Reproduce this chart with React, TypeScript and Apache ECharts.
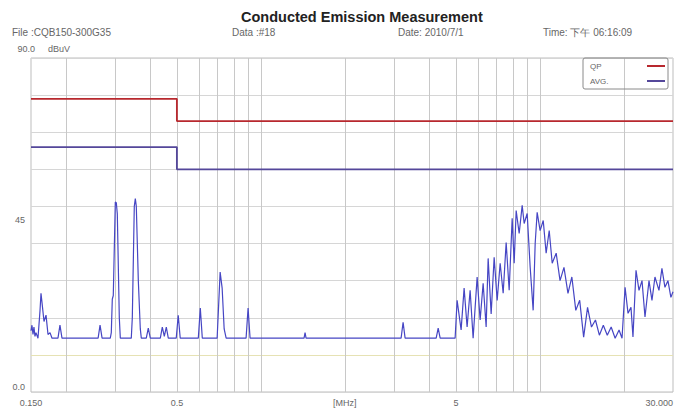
import React, { useEffect, useRef } from "react";
import * as echarts from "echarts";

// Measured trace (MHz, dBuV)
const traceFreq = [
  0.15, 0.1512, 0.1525, 0.1537, 0.155, 0.1563, 0.1589, 0.1616, 0.1629, 0.1643, 0.167, 0.1698, 0.1726, 0.1755, 0.1784,
  0.1874, 0.1905, 0.1937, 0.261, 0.2652, 0.2697, 0.2886, 0.291, 0.2934, 0.2958, 0.3008, 0.3033, 0.3058, 0.3109, 0.3135,
  0.3432, 0.3461, 0.3518, 0.3548, 0.3577, 0.3637, 0.3697, 0.3728, 0.3884, 0.3949, 0.4015, 0.4361, 0.4433, 0.4507, 0.4582,
  0.4658, 0.4973, 0.5056, 0.514, 0.5967, 0.6066, 0.6167, 0.697, 0.7145, 0.7264, 0.7386, 0.7508, 0.885, 0.8998, 0.9147,
  1.428, 1.44, 1.452, 3.181, 3.234, 3.288, 4.249, 4.32, 4.391, 4.968, 5.051, 5.22, 5.351, 5.485, 5.623, 5.764, 5.958,
  6.108, 6.261, 6.418, 6.525, 6.689, 6.857, 7.029, 7.205, 7.386, 7.571, 7.761, 7.956, 8.088, 8.223, 8.429, 8.641, 8.784,
  9.004, 9.23, 9.461, 9.619, 9.778, 10.02, 10.28, 10.53, 10.8, 11.07, 11.44, 11.81, 12.2, 12.61, 13.02, 13.45, 13.89,
  14.35, 14.82, 15.31, 15.82, 16.34, 16.88, 17.44, 18.01, 18.61, 19.22, 19.7, 20.2, 20.7, 21.21, 21.56, 22.11, 22.66,
  23.23, 23.81, 24.61, 25.22, 25.85, 26.72, 27.38, 28.07, 28.77, 29.48, 30,
];
const traceLevel = [
  16.5, 18, 15.5, 17.5, 15, 16, 14.5, 22, 26.6, 24, 19, 20.7, 15.5, 16, 14.5,
  14.5, 18, 14.5, 14.5, 18, 14.5, 14.5, 16, 25, 26, 51.2, 51, 48, 20, 14.5,
  14.5, 20, 50, 52.1, 50, 30, 17, 14.5, 14.5, 17.2, 14.5, 14.5, 17.5, 15, 17.5,
  14.5, 14.5, 20.7, 14.5, 14.5, 22.6, 14.5, 14.5, 32.3, 28, 17, 14.5, 14.5, 22.6, 14.5,
  14.5, 16, 14.5, 14.5, 18.8, 14.5, 14.5, 17.2, 14.5, 14.5, 24.7, 16.7, 28, 17.5, 27.4, 14.5, 31,
  19.4, 29.3, 17.5, 36, 21, 36.3, 24.7, 34.7, 26.6, 40.3, 27.4, 46.8, 34.7, 48.9, 42.7, 50.3, 45.4,
  48.1, 33.6, 22, 40, 48.4, 43.5, 46.2, 37.4, 43.5, 34.7, 37.4, 30, 33.6, 26.6, 31, 22, 24.7,
  14.8, 22.8, 17.5, 19.4, 15.3, 18, 15.3, 17.5, 14.5, 16.7, 14.5, 28.2, 21.2, 22.8, 14.8, 32.8, 27.4,
  30, 20.2, 30, 24.7, 31, 27.4, 33.3, 28.2, 30, 25.5, 27,
];

// Limit lines (class A)
const limitFreq = [0.15, 0.5, 0.5, 30];
const qpLimit = [79, 79, 73, 73];
const avgLimit = [66, 66, 60, 60];

// Axes
const gridFreqs = [0.2, 0.3, 0.4, 0.5, 0.6, 0.7, 0.8, 0.9, 1, 2, 3, 4, 5, 6, 7, 8, 9, 10, 20];
const xTickValues = [0.15, 0.5, 2, 5, 30];
const xTickLabels = ["0.150", "0.5", "[MHz]", "5", "30.000"];
const yTickValues = [0, 45];
const yTickLabels = ["0.0", "45"];

const headerTexts = ["File :CQB150-300G35", "Data :#18", "Date: 2010/7/1", "Time: 下午 06:16:09"];

const FONT = "Liberation Sans, Arial, sans-serif";

function nearestLabel(v: number, values: number[], labels: string[]) {
  let best = 0;
  let bd = Infinity;
  values.forEach((t, i) => {
    const d = Math.abs(Math.log(v) - Math.log(t));
    if (d < bd) {
      bd = d;
      best = i;
    }
  });
  return labels[best];
}

export default function App() {
  const ref = useRef<HTMLDivElement>(null);
  useEffect(() => {
    if (!ref.current) return;
    const chart = echarts.init(ref.current, undefined, { renderer: "svg" });
    const zip = (a: number[], b: number[]) => a.map((x, i) => [x, b[i]]);
    const headerX = [12, 232, 398, 543];
    chart.setOption({
      animation: false,
      backgroundColor: "#ffffff",
      textStyle: { fontFamily: FONT },
      title: {
        text: "Conducted Emission Measurement",
        left: 236,
        top: 4,
        textStyle: { fontSize: 14.5, fontWeight: "bold", color: "#222", fontFamily: FONT },
      },
      graphic: [
        ...headerTexts.map((t, i) => ({
          type: "text",
          x: headerX[i],
          y: 32,
          style: { text: t, fontSize: 10, fill: "#666", fontFamily: FONT, textVerticalAlign: "middle" },
        })),
        {
          type: "text",
          x: 35,
          y: 49,
          style: { text: "90.0", fontSize: 9, fill: "#666", fontFamily: FONT, textAlign: "right", textVerticalAlign: "middle" },
        },
      ],
      legend: {
        data: ["QP", "AVG."],
        orient: "vertical",
        align: "right",
        right: 21,
        top: 58,
        icon: "rect",
        itemWidth: 18,
        itemHeight: 2,
        itemGap: 7,
        borderColor: "#8a8a8a",
        borderWidth: 1,
        borderRadius: 2,
        padding: [4, 3, 4, 7],
        formatter: (n: string) => `{a|${n}}`,
        textStyle: {
          fontSize: 8,
          color: "#666",
          fontFamily: FONT,
          rich: { a: { width: 52, align: "left", fontSize: 8, color: "#666", fontFamily: FONT } },
        },
      },
      grid: { left: 31, right: 16, top: 58, bottom: 18, show: true, borderColor: "#bdbdbd", borderWidth: 1 },
      xAxis: {
        type: "log",
        logBase: 10,
        min: 0.15,
        max: 30,
        axisLine: { show: false },
        axisTick: { show: false, customValues: gridFreqs },
        splitLine: { show: true, lineStyle: { color: "#c8c8c8", width: 1 } },
        minorSplitLine: { show: false },
        axisLabel: {
          customValues: xTickValues,
          formatter: (v: number) => nearestLabel(v, xTickValues, xTickLabels),
          fontSize: 9,
          color: "#666",
          fontFamily: FONT,
          margin: 6,
          alignMaxLabel: "right",
          showMinLabel: true,
          showMaxLabel: true,
        },
      },
      yAxis: {
        type: "value",
        min: 0,
        max: 90,
        interval: 10,
        name: "dBuV",
        nameLocation: "end",
        nameGap: 5,
        nameTextStyle: { align: "left", padding: [0, 0, 0, 17], fontSize: 9, color: "#666", fontFamily: FONT },
        axisLine: { show: false },
        axisTick: { show: false },
        splitLine: {
          show: true,
          lineStyle: {
            color: ["#d6d6d6", "#e6e2b4", "#d6d6d6", "#d6d6d6", "#d6d6d6", "#d6d6d6", "#d6d6d6", "#d6d6d6", "#d6d6d6", "#d6d6d6"],
          },
        },
        axisLabel: {
          customValues: yTickValues,
          formatter: (v: number) => yTickLabels[yTickValues.indexOf(Math.round(v))] ?? "",
          fontSize: 9,
          color: "#666",
          fontFamily: FONT,
          margin: 6,
          verticalAlign: "bottom",
          padding: [0, 0, 1, 0],
        },
      },
      series: [
        {
          name: "Trace",
          type: "line",
          data: zip(traceFreq, traceLevel),
          showSymbol: false,
          color: "#4646c4",
          lineStyle: { width: 1.2, color: "#4646c4" },
          z: 3,
        },
        {
          name: "QP",
          type: "line",
          data: zip(limitFreq, qpLimit),
          showSymbol: false,
          color: "#b8282e",
          lineStyle: { width: 1.8, color: "#b8282e" },
          z: 4,
        },
        {
          name: "AVG.",
          type: "line",
          data: zip(limitFreq, avgLimit),
          showSymbol: false,
          color: "#54479a",
          lineStyle: { width: 1.8, color: "#54479a" },
          z: 4,
        },
      ],
    });
    return () => chart.dispose();
  }, []);
  return <div ref={ref} style={{ position: "fixed", left: 0, top: 0, width: 689, height: 410 }} />;
}
